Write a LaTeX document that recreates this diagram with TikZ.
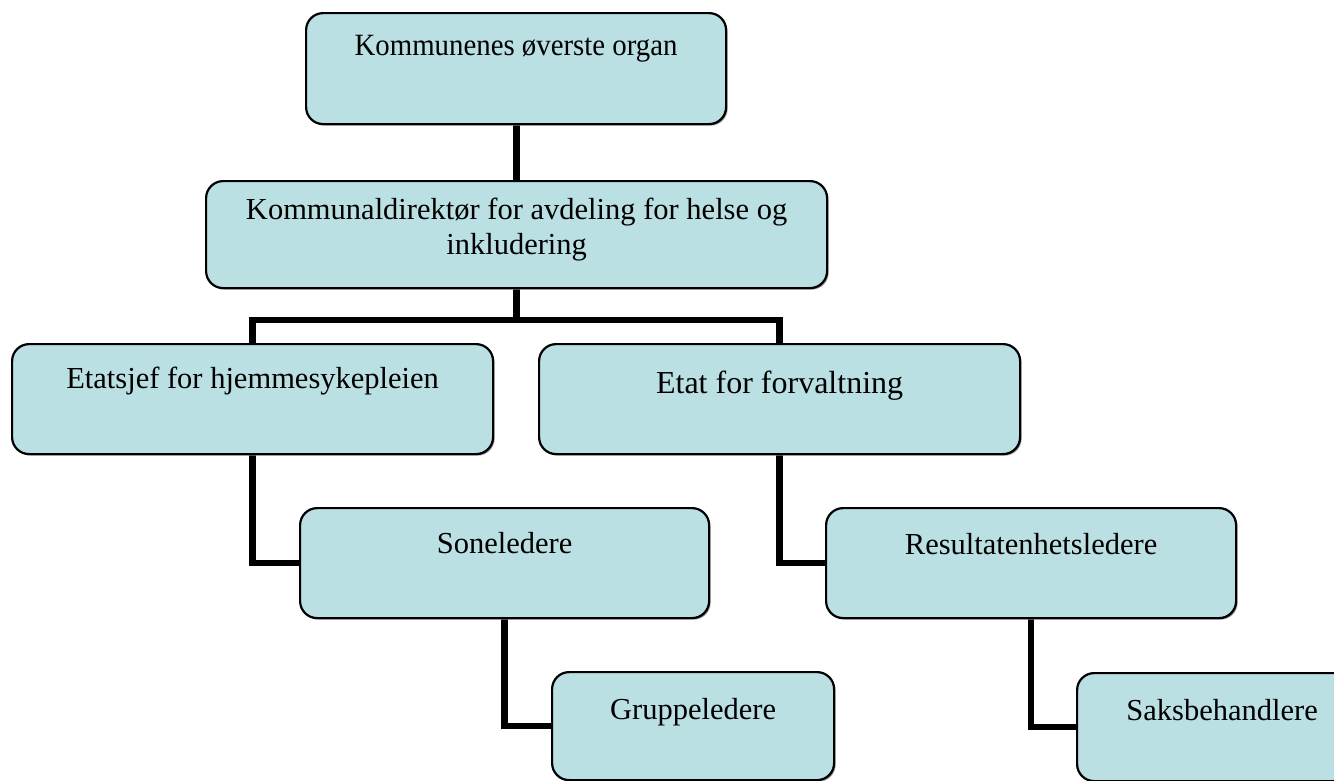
\documentclass[tikz,border=0pt]{standalone}
\usepackage{fontspec}
\setmainfont{Liberation Serif}
\newfontfamily\condserif{Liberation Serif}[FakeStretch=0.93]
\usetikzlibrary{backgrounds,shadows}
\definecolor{boxfill}{RGB}{187,224,227}
\tikzset{
  orgbox/.style={draw=black, line width=2.2pt, fill=boxfill, rounded corners=17pt,
    anchor=north west, inner xsep=0pt, inner ysep=0pt, align=center,
    drop shadow={shadow xshift=1.5pt, shadow yshift=-1.5pt, fill=black!45, opacity=1},
    font=\fontsize{30.5}{35}\selectfont},
  link/.style={line width=6.5pt, black}
}
\begin{document}
\begin{tikzpicture}[x=1pt, y=-1pt]
\useasboundingbox (0,0) rectangle (1334,780);
\node[orgbox, minimum width=420pt, minimum height=111pt, text height=42pt, text depth=69pt,
  font=\condserif\fontsize{31}{36}\selectfont] (b1) at (305,12) {Kommunenes øverste organ};
\node[orgbox, minimum width=621pt, minimum height=107pt, text height=38pt, text depth=69pt] (b2) at (205,180)
  {\parbox[t]{600pt}{\centering\fontsize{30.5}{35}\selectfont Kommunaldirektør for avdeling for helse og\\inkludering}};
\node[orgbox, minimum width=481pt, minimum height=110pt, text height=44pt, text depth=66pt] (b3) at (11,343) {Etatsjef for hjemmesykepleien};
\node[orgbox, minimum width=481pt, minimum height=110pt, text height=49pt, text depth=61pt,
  font=\fontsize{32}{37}\selectfont] (b4) at (538,343) {Etat for forvaltning};
\node[orgbox, minimum width=409pt, minimum height=110pt, text height=45pt, text depth=65pt] (b5) at (299,507) {Soneledere};
\node[orgbox, minimum width=410pt, minimum height=110pt, text height=46pt, text depth=64pt] (b7) at (825,507) {Resultatenhetsledere};
\node[orgbox, minimum width=282pt, minimum height=108pt, text height=47pt, text depth=61pt] (b6) at (551,671) {Gruppeledere};
\node[orgbox, minimum width=290pt, minimum height=108pt, text height=47pt, text depth=61pt] (b8) at (1076,672) {Saksbehandlere};
\coordinate (j) at (b2.south |- 0,320);
\begin{scope}[on background layer]
\draw[link] (b2.north) -- (b2.north |- b1.south);
\draw[link] (b2.south) -- (j);
\draw[link] (b3.north) |- (j) -| (b4.north);
\draw[link] (b3.south) |- (b5.west);
\draw[link] (b5.south) |- (b6.west);
\draw[link] (b4.south) |- (b7.west);
\draw[link] (b7.south) |- (b8.west);
\end{scope}
\end{tikzpicture}
\end{document}
